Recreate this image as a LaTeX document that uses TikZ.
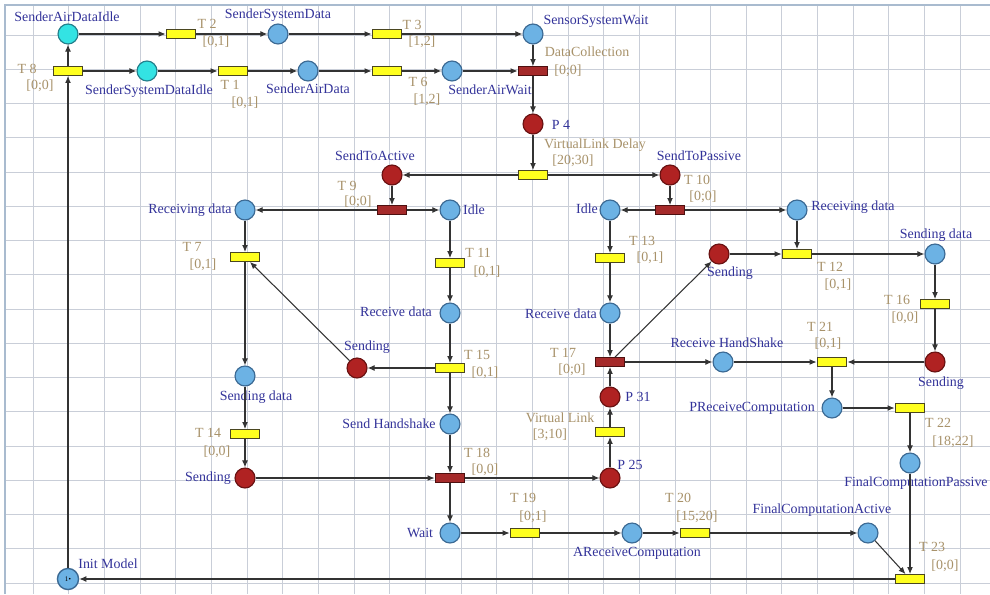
\documentclass[tikz,border=0pt]{standalone}
\usepackage{fontspec}
\setmainfont{Liberation Serif}
\usetikzlibrary{arrows.meta}
\definecolor{gridc}{HTML}{C9CED8}
\definecolor{framec}{HTML}{A9BBCF}
\definecolor{placefill}{HTML}{6CB2E4}
\definecolor{placeedge}{HTML}{3C6A94}
\definecolor{cyanfill}{HTML}{33E3E3}
\definecolor{cyanedge}{HTML}{23808C}
\definecolor{redfill}{HTML}{B02222}
\definecolor{rededge}{HTML}{6A1212}
\definecolor{transfill}{HTML}{FFFF1E}
\definecolor{transedge}{HTML}{4A4620}
\definecolor{rtransfill}{HTML}{A52A2A}
\definecolor{rtransedge}{HTML}{4E1010}
\definecolor{arccol}{HTML}{333333}
\definecolor{plabcol}{HTML}{33339A}
\definecolor{tlabcol}{HTML}{A8926A}
\begin{document}
\begin{tikzpicture}[x=0.03cm,y=-0.03cm,
  place/.style={circle,draw=placeedge,fill=placefill,line width=1pt,minimum size=17pt,inner sep=0pt},
  cyanplace/.style={place,draw=cyanedge,fill=cyanfill},
  redplace/.style={place,draw=rededge,fill=redfill},
  trans/.style={rectangle,draw=transedge,fill=transfill,line width=0.8pt,minimum width=25.5pt,minimum height=7.6pt,inner sep=0pt},
  redtrans/.style={trans,fill=rtransfill,draw=rtransedge},
  arc/.style={draw=arccol,line width=0.9pt,-{Latex[length=6pt,width=5pt]}},
  gridline/.style={draw=gridc,line width=0.8pt},
  plab/.style={text=plabcol,font=\fontsize{11.9}{13}\selectfont,inner sep=0pt},
  tlab/.style={text=tlabcol,font=\fontsize{11.9}{13}\selectfont,inner sep=0pt},
]
\useasboundingbox (0,0) rectangle (990,594);
\fill[white] (0,0) rectangle (990,594);

% background grid of the editor canvas
\foreach \i in {0,...,26} \draw[gridline] ({33.3+35.65*\i},5) -- ({33.3+35.65*\i},594);
\foreach \j in {0,...,16} \draw[gridline] (5,{35+34.25*\j}) -- (990,{35+34.25*\j});
\draw[framec,line width=1.6pt] (5,594) -- (5,5) -- (990,5);

% ---------- places ----------
\node[cyanplace] (sadi) at (68,34) {};
\node[cyanplace] (ssdi) at (147,71) {};
\node[place] (ssd) at (278,34) {};
\node[place] (sad) at (308,71) {};
\node[place] (ssw) at (533,34) {};
\node[place] (saw) at (452,71) {};
\node[redplace] (p4) at (533,124) {};
\node[redplace] (sta) at (392,175) {};
\node[redplace] (stp) at (670,175) {};
\node[place] (idleL) at (450,210) {};
\node[place] (idleR) at (610,210) {};
\node[place] (rdL) at (245,210) {};
\node[place] (rdR) at (797,210) {};
\node[place] (sdL) at (245,376) {};
\node[redplace] (sendM) at (357,368) {};
\node[place] (recvL) at (450,313) {};
\node[place] (sh) at (450,424) {};
\node[redplace] (sendLB) at (245,478) {};
\node[place] (wait) at (450,533) {};
\node[place] (arcomp) at (632,533) {};
\node[place] (fca) at (868,533) {};
\node[place] (recvR) at (610,313) {};
\node[redplace] (p31) at (610,397) {};
\node[redplace] (p25) at (610,478) {};
\node[redplace] (sendRU) at (719,254) {};
\node[place] (sdR) at (935,254) {};
\node[redplace] (sendRL) at (935,362) {};
\node[place] (rhs) at (723,362) {};
\node[place] (prc) at (832,408) {};
\node[place] (fcp) at (910,463) {};
\node[place,minimum size=18pt,line width=1.2pt] (init) at (68,579) {};
\node[inner sep=0pt,font=\fontsize{6}{6}\selectfont] (tok) at (68,579) {1\kern0.3pt\textbullet};

% ---------- transitions ----------
\node[trans] (t8) at (68,71) {};
\node[trans] (t2) at (181,34) {};
\node[trans] (t1) at (233,71) {};
\node[trans] (t3) at (387,34) {};
\node[trans] (t6) at (387,71) {};
\node[redtrans] (dc) at (533,71) {};
\node[trans] (vld) at (533,175) {};
\node[redtrans] (t9) at (392,210) {};
\node[redtrans] (t10) at (670,210) {};
\node[trans] (t7) at (245,257) {};
\node[trans] (t11) at (450,263) {};
\node[trans] (t13) at (610,258) {};
\node[trans] (t12) at (797,254) {};
\node[trans] (t16) at (935,304) {};
\node[trans] (t15) at (450,368) {};
\node[redtrans] (t17) at (610,362) {};
\node[trans] (t21) at (832,362) {};
\node[trans] (t14) at (245,434) {};
\node[redtrans] (t18) at (450,478) {};
\node[trans] (vl) at (610,432) {};
\node[trans] (t22) at (910,408) {};
\node[trans] (t19) at (525,533) {};
\node[trans] (t20) at (695,533) {};
\node[trans] (t23) at (910,579) {};

% ---------- place labels ----------
\node[plab] (l-sadi) at (67,17) {SenderAirDataIdle};
\node[plab] (l-ssdi) at (149,91) {SenderSystemDataIdle};
\node[plab] (l-ssd) at (278,15) {SenderSystemData};
\node[plab] (l-sad) at (308,89) {SenderAirData};
\node[plab] (l-ssw) at (596,21) {SensorSystemWait};
\node[plab] (l-saw) at (490,90) {SenderAirWait};
\node[plab] (l-p4) at (561,125) {P 4};
\node[plab] (l-sta) at (375,156) {SendToActive};
\node[plab] (l-stp) at (699,156) {SendToPassive};
\node[plab] (l-idleL) at (474,210) {Idle};
\node[plab] (l-idleR) at (587,209) {Idle};
\node[plab] (l-rdL) at (190,210) {Receiving data};
\node[plab] (l-rdR) at (853,207) {Receiving data};
\node[plab] (l-sendRU) at (730,273) {Sending};
\node[plab] (l-sdR) at (936,235) {Sending data};
\node[plab] (l-recvL) at (396,312) {Receive data};
\node[plab] (l-recvR) at (561,314) {Receive data};
\node[plab] (l-sendM) at (367,347) {Sending};
\node[plab] (l-rhs) at (727,343) {Receive HandShake};
\node[plab] (l-sendRL) at (941,383) {Sending};
\node[plab] (l-sdL) at (256,397) {Sending data};
\node[plab] (l-p31) at (638,397) {P 31};
\node[plab] (l-prc) at (752,408) {PReceiveComputation};
\node[plab] (l-sh) at (389,424) {Send Handshake};
\node[plab] (l-fcp) at (916,483) {FinalComputationPassive};
\node[plab] (l-p25) at (630,465) {P 25};
\node[plab] (l-sendLB) at (208,478) {Sending};
\node[plab] (l-fca) at (822,510) {FinalComputationActive};
\node[plab] (l-wait) at (420,533) {Wait};
\node[plab] (l-arcomp) at (637,553) {AReceiveComputation};
\node[plab] (l-init) at (108,564) {Init Model};

% ---------- transition labels ----------
\node[tlab] (n-t8) at (27,69) {T 8};
\node[tlab] (i-t8) at (40,86) {[0;0]};
\node[tlab] (n-t2) at (207,24) {T 2};
\node[tlab] (i-t2) at (216,42) {[0,1]};
\node[tlab] (n-t1) at (230,85) {T 1};
\node[tlab] (i-t1) at (245,103) {[0,1]};
\node[tlab] (n-t3) at (412,25) {T 3};
\node[tlab] (i-t3) at (422,42) {[1,2]};
\node[tlab] (n-t6) at (418,82) {T 6};
\node[tlab] (i-t6) at (427,100) {[1,2]};
\node[tlab] (n-dc) at (587,52) {DataCollection};
\node[tlab] (i-dc) at (568,71) {[0;0]};
\node[tlab] (n-vld) at (595,145) {VirtualLink Delay};
\node[tlab] (i-vld) at (573,161) {[20;30]};
\node[tlab] (n-t9) at (347,186) {T 9};
\node[tlab] (i-t9) at (358,202) {[0;0]};
\node[tlab] (n-t10) at (697,180) {T 10};
\node[tlab] (i-t10) at (703,197) {[0;0]};
\node[tlab] (n-t7) at (192,247) {T 7};
\node[tlab] (i-t7) at (203,265) {[0,1]};
\node[tlab] (n-t11) at (478,253) {T 11};
\node[tlab] (i-t11) at (487,272) {[0,1]};
\node[tlab] (n-t13) at (642,241) {T 13};
\node[tlab] (i-t13) at (650,258) {[0,1]};
\node[tlab] (n-t12) at (830,267) {T 12};
\node[tlab] (i-t12) at (838,285) {[0,1]};
\node[tlab] (n-t16) at (897,300) {T 16};
\node[tlab] (i-t16) at (905,318) {[0,0]};
\node[tlab] (n-t15) at (477,355) {T 15};
\node[tlab] (i-t15) at (485,373) {[0,1]};
\node[tlab] (n-t17) at (563,353) {T 17};
\node[tlab] (i-t17) at (572,370) {[0;0]};
\node[tlab] (n-t21) at (820,327) {T 21};
\node[tlab] (i-t21) at (828,344) {[0,1]};
\node[tlab] (n-t22) at (938,423) {T 22};
\node[tlab] (i-t22) at (953,442) {[18;22]};
\node[tlab] (n-vl) at (560,418) {Virtual Link};
\node[tlab] (i-vl) at (550,435) {[3;10]};
\node[tlab] (n-t14) at (208,433) {T 14};
\node[tlab] (i-t14) at (217,452) {[0,0]};
\node[tlab] (n-t18) at (477,453) {T 18};
\node[tlab] (i-t18) at (485,470) {[0,0]};
\node[tlab] (n-t19) at (523,498) {T 19};
\node[tlab] (i-t19) at (533,517) {[0;1]};
\node[tlab] (n-t20) at (678,498) {T 20};
\node[tlab] (i-t20) at (697,517) {[15;20]};
\node[tlab] (n-t23) at (932,547) {T 23};
\node[tlab] (i-t23) at (945,566) {[0;0]};

% ---------- arcs ----------
% sensor / sender start-up
\draw[arc] (init) -- (t8);
\draw[arc] (t8) -- (sadi);
\draw[arc] (t8) -- (ssdi);
\draw[arc] (sadi) -- (t2);
\draw[arc] (t2) -- (ssd);
\draw[arc] (ssd) -- (t3);
\draw[arc] (t3) -- (ssw);
\draw[arc] (ssdi) -- (t1);
\draw[arc] (t1) -- (sad);
\draw[arc] (sad) -- (t6);
\draw[arc] (t6) -- (saw);
\draw[arc] (saw) -- (dc);
\draw[arc] (ssw) -- (dc);
\draw[arc] (dc) -- (p4);
\draw[arc] (p4) -- (vld);
\draw[arc] (vld) -- (sta);
\draw[arc] (vld) -- (stp);
% active side
\draw[arc] (sta) -- (t9);
\draw[arc] (t9) -- (idleL);
\draw[arc] (t9) -- (rdL);
\draw[arc] (idleL) -- (t11);
\draw[arc] (t11) -- (recvL);
\draw[arc] (recvL) -- (t15);
\draw[arc] (t15) -- (sendM);
\draw[arc] (t15) -- (sh);
\draw[arc] (sendM) -- (t7);
\draw[arc] (rdL) -- (t7);
\draw[arc] (t7) -- (sdL);
\draw[arc] (sdL) -- (t14);
\draw[arc] (t14) -- (sendLB);
\draw[arc] (sendLB) -- (t18);
\draw[arc] (sh) -- (t18);
\draw[arc] (t18) -- (p25);
\draw[arc] (t18) -- (wait);
\draw[arc] (p25) -- (vl);
\draw[arc] (vl) -- (p31);
\draw[arc] (p31) -- (t17);
% passive side
\draw[arc] (stp) -- (t10);
\draw[arc] (t10) -- (idleR);
\draw[arc] (t10) -- (rdR);
\draw[arc] (idleR) -- (t13);
\draw[arc] (t13) -- (recvR);
\draw[arc] (recvR) -- (t17);
\draw[arc] (t17) -- (sendRU);
\draw[arc] (t17) -- (rhs);
\draw[arc] (sendRU) -- (t12);
\draw[arc] (rdR) -- (t12);
\draw[arc] (t12) -- (sdR);
\draw[arc] (sdR) -- (t16);
\draw[arc] (t16) -- (sendRL);
\draw[arc] (sendRL) -- (t21);
\draw[arc] (rhs) -- (t21);
\draw[arc] (t21) -- (prc);
\draw[arc] (prc) -- (t22);
\draw[arc] (t22) -- (fcp);
\draw[arc] (fcp) -- (t23);
% computation and reset
\draw[arc] (wait) -- (t19);
\draw[arc] (t19) -- (arcomp);
\draw[arc] (arcomp) -- (t20);
\draw[arc] (t20) -- (fca);
\draw[arc] (fca) -- (t23);
\draw[arc] (t23) -- (init);
\end{tikzpicture}
\end{document}
